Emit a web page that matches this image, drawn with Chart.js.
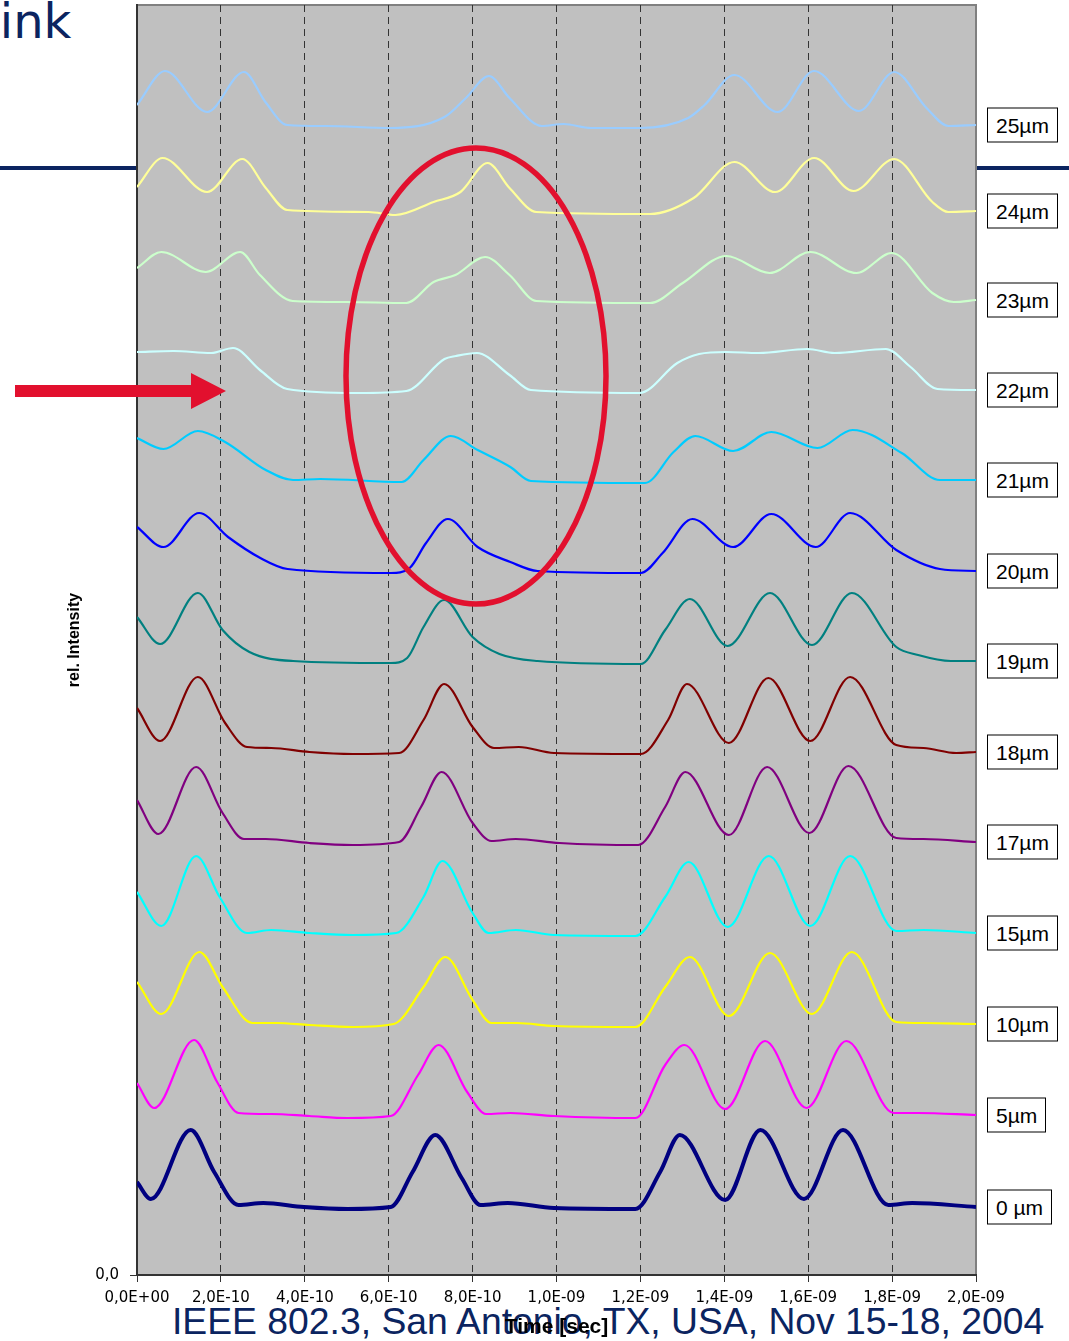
<!DOCTYPE html>
<html>
<head>
<meta charset="utf-8">
<title>rel. Intensity vs Time</title>
<script src="https://cdn.jsdelivr.net/npm/chart.js@4.4.1/dist/chart.umd.min.js"></script>
<style>
    html, body { margin: 0; padding: 0; background: #fff; }
    #wrap { position: relative; width: 1069px; height: 1341px; overflow: hidden; font-family: "Liberation Sans", Arial, sans-serif; }
    #c { position: absolute; left: 0; top: 0; z-index: 2; }
    .navy-rule { position: absolute; left: 0; top: 166px; width: 1069px; height: 4px; background: #0b2460; z-index: 1; }
    .slide-title { position: absolute; left: -28px; top: -3px; font-family: "DejaVu Sans", sans-serif; font-size: 48px; line-height: 48px; color: #0b2460; z-index: 1; white-space: nowrap; }
    .footer { position: absolute; left: 172px; top: 1300px; font-size: 37.3px; line-height: 42px; color: #0b2460; z-index: 1; white-space: nowrap; }
    .tag { position: absolute; left: 987px; transform: translateY(-50%); background: #fff; border: 1px solid #000; padding: 3px 8px; font-size: 21px; line-height: 27px; color: #000; z-index: 3; white-space: nowrap; }
    svg.marks { position: absolute; left: 0; top: 0; z-index: 4; pointer-events: none; }
</style>
</head>
<body>
<div id="wrap">
    <div class="slide-title">kink</div>
    <div class="navy-rule"></div>
    <div class="footer">IEEE 802.3, San Antonio, TX, USA, Nov 15-18, 2004</div>
    <canvas id="c" width="1069" height="1341"></canvas>
    <svg class="marks" width="1069" height="1341">
        <ellipse cx="476" cy="376" rx="130" ry="228" fill="none" stroke="#e2102e" stroke-width="5.5"/>
        <polygon points="15,385 191,385 191,373 226,391 191,409 191,397 15,397" fill="#e2102e"/>
    </svg>
</div>

<script>
(function () {
    "use strict";

    // x axis: time in units of 1E-10 s
    const tickLabels = ["0,0E+00", "2,0E-10", "4,0E-10", "6,0E-10", "8,0E-10", "1,0E-09",
                        "1,2E-09", "1,4E-09", "1,6E-09", "1,8E-09", "2,0E-09"];

    const traceNames = ["25µm", "24µm", "23µm", "22µm", "21µm", "20µm", "19µm",
                        "18µm", "17µm", "15µm", "10µm", "5µm", "0 µm"];

    // traces (time, rel. intensity incl. offset)
    const t25 = [0, 0.67, 1.67, 2.55, 3.06, 3.58, 4.5, 6.04, 7.33, 7.84, 8.39, 8.88, 9.65, 10.17, 10.82, 11.98, 13.14, 13.53, 14.24, 15.27, 16.14, 17.21, 18.05, 18.82, 19.34, 20];
    const v25 = [117.0, 120.4, 116.3, 120.3, 117.3, 115.0, 114.9, 114.7, 115.8, 117.7, 119.9, 117.7, 114.9, 115.1, 114.7, 114.7, 115.7, 117.0, 120.0, 116.3, 120.4, 116.4, 120.3, 116.7, 114.9, 115.0];

    const t24 = [0, 0.61, 1.67, 2.51, 3.07, 3.58, 5.52, 6.16, 7.07, 7.71, 8.36, 8.88, 9.52, 12.23, 13.27, 14.24, 15.21, 16.14, 17.08, 18.05, 18.96, 19.34, 20];
    const v24 = [108.8, 111.7, 108.3, 111.6, 108.7, 106.5, 106.3, 106.0, 107.3, 108.3, 111.2, 108.7, 106.3, 106.1, 107.7, 111.3, 108.3, 111.7, 108.4, 111.6, 107.3, 106.3, 106.4];

    const t23 = [0, 0.58, 1.64, 2.46, 2.93, 3.71, 5.0, 6.42, 7.07, 7.59, 8.3, 8.88, 9.52, 12.23, 13.01, 14.05, 15.08, 16.05, 17.15, 17.99, 18.96, 19.47, 20];
    const v23 = [100.7, 102.3, 100.3, 102.3, 100.0, 97.4, 97.3, 97.2, 99.3, 100.0, 101.8, 100.0, 97.4, 97.2, 99.2, 101.9, 100.2, 102.3, 100.2, 102.2, 98.2, 97.3, 97.5];

    const t22 = [0, 0.87, 1.77, 2.29, 2.93, 3.58, 5.26, 6.42, 7.33, 7.6, 8.1, 8.88, 9.39, 11.98, 12.88, 13.4, 14.05, 14.82, 15.98, 16.63, 17.85, 18.44, 19.08, 20];
    const v22 = [92.3, 92.4, 92.2, 92.7, 90.5, 88.6, 88.2, 88.4, 91.6, 91.9, 92.2, 90.0, 88.5, 88.2, 91.2, 92.1, 92.3, 92.2, 92.6, 92.2, 92.6, 90.8, 88.6, 88.5];

    const t21 = [0, 0.63, 1.45, 2.1, 3.07, 3.72, 4.37, 6.31, 6.83, 7.48, 8.12, 8.9, 9.39, 12.11, 12.79, 13.31, 14.21, 15.12, 16.22, 17.06, 18.23, 19.14, 20];
    const v21 = [83.7, 82.6, 84.4, 83.3, 80.5, 79.5, 79.6, 79.3, 81.5, 83.9, 82.5, 80.8, 79.4, 79.2, 82.3, 83.9, 82.4, 84.3, 82.7, 84.5, 82.2, 79.5, 79.5];

    const t20 = [0, 0.63, 1.48, 2.17, 2.94, 3.59, 6.05, 6.5, 6.89, 7.41, 8.12, 8.9, 9.55, 12.01, 12.53, 13.24, 14.21, 15.12, 16.18, 17.0, 18.1, 19.14, 20];
    const v20 = [74.8, 72.8, 76.2, 73.8, 71.7, 70.6, 70.2, 70.7, 73.2, 75.6, 72.8, 71.3, 70.4, 70.2, 72.2, 75.6, 72.8, 76.1, 72.8, 76.2, 72.5, 70.6, 70.4];

    const t19 = [0, 0.55, 1.45, 2.04, 2.68, 3.72, 6.05, 6.44, 6.83, 7.32, 8.0, 8.64, 9.55, 12.01, 12.59, 13.18, 14.08, 15.09, 16.09, 17.04, 18.1, 18.62, 19.4, 20];
    const v19 = [65.8, 63.1, 68.2, 64.5, 62.3, 61.4, 61.2, 61.7, 64.8, 67.5, 63.8, 62.1, 61.4, 61.1, 64.5, 67.6, 62.9, 68.2, 63.0, 68.2, 62.8, 62.0, 61.4, 61.4];

    const t18 = [0, 0.55, 1.45, 2.1, 2.62, 3.2, 4.11, 5.14, 6.25, 6.83, 7.32, 8.0, 8.51, 9.1, 9.94, 12.01, 12.66, 13.11, 14.11, 15.05, 16.05, 17.0, 18.1, 18.75, 19.53, 20];
    const v18 = [56.7, 53.4, 59.8, 55.2, 52.8, 52.7, 52.3, 52.1, 52.2, 55.5, 59.1, 54.8, 52.7, 52.8, 52.2, 52.1, 55.5, 59.1, 53.2, 59.7, 53.4, 59.8, 53.0, 52.7, 52.2, 52.3];

    const t17 = [0, 0.51, 1.41, 2.04, 2.55, 3.07, 4.11, 5.14, 6.25, 6.77, 7.26, 8.0, 8.45, 9.03, 10.07, 11.95, 12.59, 13.07, 14.11, 15.02, 16.03, 16.96, 18.1, 18.75, 20];
    const v17 = [47.5, 44.1, 50.8, 46.2, 43.6, 43.6, 43.2, 43.0, 43.3, 46.8, 50.3, 45.2, 43.4, 43.6, 43.2, 43.0, 46.8, 50.3, 44.0, 50.8, 44.2, 50.9, 43.7, 43.6, 43.3];

    const t15 = [0, 0.58, 1.41, 1.97, 2.62, 3.2, 4.11, 5.14, 6.18, 6.83, 7.28, 8.0, 8.38, 9.03, 9.94, 11.88, 12.59, 13.15, 14.08, 15.06, 16.05, 17.0, 18.1, 18.75, 20];
    const v15 = [38.3, 34.9, 41.9, 37.8, 34.2, 34.5, 34.2, 34.0, 34.2, 37.8, 41.4, 36.2, 34.2, 34.5, 34.0, 33.9, 37.8, 41.3, 34.8, 41.9, 34.9, 41.9, 34.4, 34.5, 34.2];

    const t10 = [0, 0.58, 1.49, 2.04, 2.75, 3.33, 4.11, 5.14, 6.12, 6.83, 7.35, 8.0, 8.45, 9.06, 9.94, 11.88, 12.59, 13.18, 14.11, 15.09, 16.09, 17.04, 18.1, 18.75, 20];
    const v10 = [29.3, 26.1, 32.3, 28.8, 25.2, 25.2, 25.0, 24.8, 25.1, 28.8, 31.8, 27.5, 25.2, 25.2, 24.9, 24.8, 28.8, 31.8, 25.9, 32.2, 26.1, 32.3, 25.3, 25.2, 25.1];

    const t05 = [0, 0.41, 1.36, 1.91, 2.42, 3.2, 4.11, 5.02, 6.05, 6.7, 7.19, 7.87, 8.32, 8.9, 9.94, 11.88, 12.59, 13.05, 14.02, 14.97, 15.96, 16.91, 18.04, 18.62, 20];
    const v05 = [19.2, 16.7, 23.5, 19.3, 16.2, 16.1, 15.9, 15.7, 15.9, 20.0, 23.0, 18.3, 16.1, 16.2, 15.9, 15.7, 21.0, 23.0, 16.6, 23.4, 16.7, 23.4, 16.2, 16.2, 16.0];

    const t00 = [0, 0.33, 1.28, 1.84, 2.42, 3.01, 3.98, 5.02, 6.05, 6.57, 7.11, 7.74, 8.19, 8.84, 9.94, 11.88, 12.47, 12.94, 14.02, 14.86, 15.9, 16.83, 17.91, 18.48, 20];
    const v00 = [9.3, 7.6, 14.5, 10.3, 7.0, 7.2, 6.8, 6.6, 6.8, 10.3, 14.0, 9.7, 7.0, 7.2, 6.7, 6.6, 10.3, 14.0, 7.5, 14.5, 7.6, 14.5, 7.0, 7.2, 6.8];

    const traceTimes  = [t25, t24, t23, t22, t21, t20, t19, t18, t17, t15, t10, t05, t00];
    const traceValues = [v25, v24, v23, v22, v21, v20, v19, v18, v17, v15, v10, v05, v00];

    const traceColors = ["#99ccff", "#ffff99", "#ccffcc", "#ccffff", "#00ccff", "#0000ff", "#008080",
                         "#800000", "#800080", "#00ffff", "#ffff00", "#ff00ff", "#000080"];

    // =============================
    // Datasets
    // =============================
    const datasets = traceNames.map((name, i) => ({
        label: name,
        data: traceTimes[i].map((t, k) => ({ x: t, y: traceValues[i][k] })),
        borderColor: traceColors[i],
        borderWidth: i === traceNames.length - 1 ? 4 : 2.2,
        pointRadius: 0,
        fill: false,
        cubicInterpolationMode: "monotone"
    }));

    // gray plot area + top/right frame
    const plotFrame = {
        id: "plotFrame",
        beforeDraw(chart) {
            const { ctx, chartArea: a } = chart;
            ctx.save();
            ctx.fillStyle = "#c0c0c0";
            ctx.fillRect(a.left, a.top, a.right - a.left, a.bottom - a.top);
            ctx.strokeStyle = "#808080";
            ctx.lineWidth = 2;
            ctx.beginPath();
            ctx.moveTo(a.left, a.top);
            ctx.lineTo(a.right, a.top);
            ctx.lineTo(a.right, a.bottom);
            ctx.stroke();
            ctx.restore();
        }
    };

    // series name boxes at the right, centred on each trace's last value
    const sideTags = {
        id: "sideTags",
        afterDraw(chart) {
            const wrap = document.getElementById("wrap");
            const yScale = chart.scales.y;
            wrap.querySelectorAll(".tag").forEach((el) => el.remove());
            traceNames.forEach((name, i) => {
                const vals = traceValues[i];
                const el = document.createElement("div");
                el.className = "tag";
                el.textContent = name;
                el.style.top = yScale.getPixelForValue(vals[vals.length - 1]) + "px";
                wrap.appendChild(el);
            });
        }
    };

    const axisFont = { family: "'DejaVu Sans', sans-serif", size: 15 };

    new Chart(document.getElementById("c"), {
        type: "line",
        data: { datasets: datasets },
        plugins: [plotFrame, sideTags],
        options: {
            responsive: false,
            animation: false,
            devicePixelRatio: 1,
            layout: { padding: { top: 5, right: 93, left: 0, bottom: 0 } },
            plugins: {
                legend: { display: false },
                tooltip: { enabled: false }
            },
            scales: {
                x: {
                    type: "linear",
                    min: 0,
                    max: 20,
                    afterFit: (s) => { s.height = 66; },
                    ticks: {
                        stepSize: 2,
                        autoSkip: false,
                        maxRotation: 0,
                        padding: 7,
                        color: "#000",
                        font: axisFont,
                        callback: (v) => tickLabels[Math.round(v / 2)]
                    },
                    grid: {
                        color: (c) => (c.index === 0 || c.index === tickLabels.length - 1) ? "rgba(0,0,0,0)" : "#333",
                        lineWidth: 1,
                        tickColor: "#333",
                        tickLength: 7,
                        tickBorderDash: []
                    },
                    border: { color: "#333", width: 2, dash: [7, 5] },
                    title: {
                        display: true,
                        text: "Time [sec]",
                        color: "#000",
                        font: { family: "'Liberation Sans', Arial, sans-serif", size: 21, weight: "bold" },
                        padding: { top: 0, bottom: 1 }
                    }
                },
                y: {
                    min: 0,
                    max: 127,
                    afterFit: (s) => {
                        s.width = 137;
                        s.paddingTop = 0;
                        s.paddingBottom = 0;
                    },
                    afterBuildTicks: (s) => { s.ticks = [{ value: 0 }]; },
                    ticks: {
                        padding: 11,
                        color: "#000",
                        font: axisFont,
                        callback: () => "0,0"
                    },
                    grid: {
                        drawOnChartArea: false,
                        tickColor: "#333",
                        tickLength: 7
                    },
                    border: { color: "#333", width: 2 },
                    title: {
                        display: true,
                        text: "rel. Intensity",
                        color: "#000",
                        font: { family: "'Liberation Sans', Arial, sans-serif", size: 16, weight: "bold" },
                        padding: { top: 65, bottom: 0 }
                    }
                }
            }
        }
    });
})();
</script>
</body>
</html>
